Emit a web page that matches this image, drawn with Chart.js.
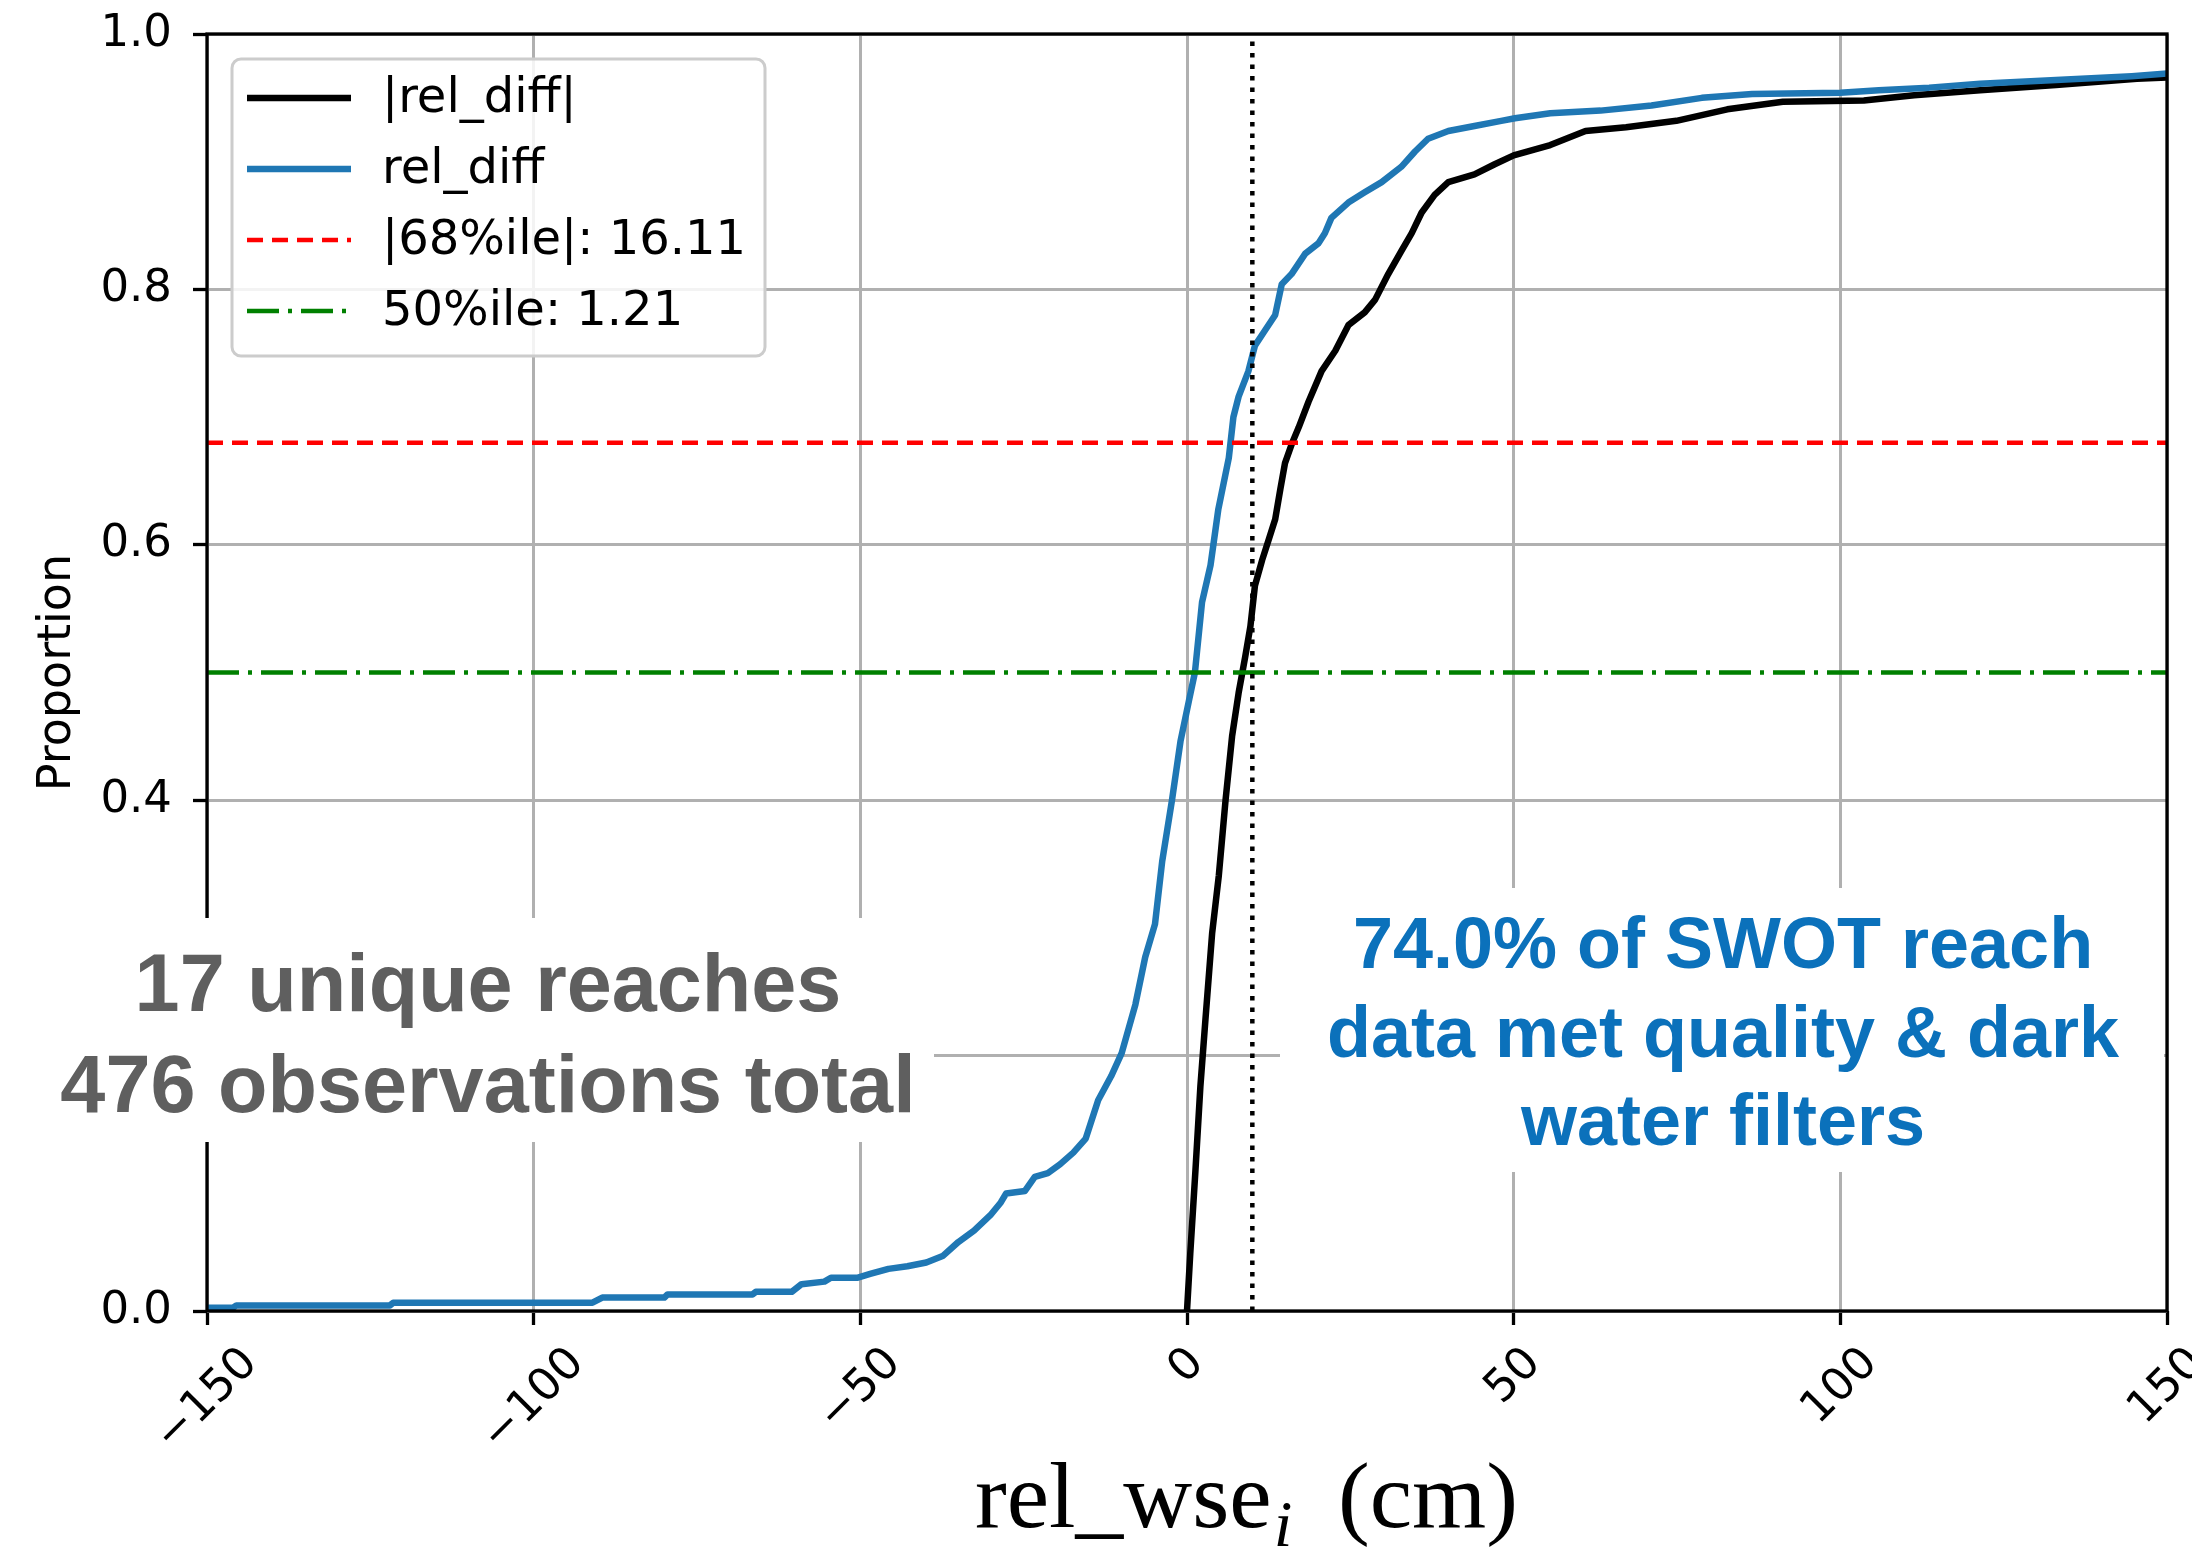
<!DOCTYPE html>
<html>
<head>
<meta charset="utf-8">
<script src="https://cdn.jsdelivr.net/npm/chart.js@4.4.0/dist/chart.umd.min.js"></script>
<style>
html, body { margin: 0; padding: 0; background: #ffffff; }
canvas { display: block; }
</style>
</head>
<body>
<canvas id="c" width="2192" height="1548"></canvas>
<script>
// Empirical CDF of the signed relative WSE difference (cm)
const relDiffX = [-150, -146, -145.5, -122, -121.5, -91, -89.5, -80, -79.5, -66.5, -66, -60.5, -59, -55.5, -54.5, -50.5,
  -48.5, -45.7, -42.8, -39.9, -37.4, -35, -32.6, -30.1, -28.5, -27.7, -24.8, -23.3, -21.3, -19.4, -17.4, -15.5,
  -13.6, -11.6, -10, -7.9, -6.4, -4.9, -3.8, -2.3, -1.0, 0.3, 1.21, 2.3, 3.6, 4.8, 6.4, 7.1, 7.9, 9.4, 10.4, 11.7,
  13.5, 14.5, 16.0, 18.1, 20.1, 21.1, 22.1, 24.7, 27.2, 29.8, 32.8, 34.9, 36.9, 40.0, 44.0, 48.1, 50.2, 55.6,
  63.3, 71.1, 78.8, 86.5, 100, 105.9, 113.6, 121.4, 133, 144.6, 150];
const relDiffY = [0.0026, 0.0026, 0.0044, 0.0044, 0.0065, 0.0065, 0.0105, 0.0105, 0.013, 0.013, 0.015, 0.015, 0.021, 0.023, 0.026, 0.026,
  0.029, 0.033, 0.035, 0.038, 0.043, 0.054, 0.063, 0.075, 0.085, 0.092, 0.094, 0.105, 0.108, 0.115, 0.124, 0.135,
  0.165, 0.184, 0.202, 0.24, 0.277, 0.303, 0.352, 0.40, 0.446, 0.478, 0.50, 0.555, 0.584, 0.628, 0.668, 0.70, 0.716, 0.736, 0.756, 0.766,
  0.78, 0.804, 0.812, 0.828, 0.836, 0.844, 0.856, 0.868, 0.876, 0.884, 0.896, 0.908, 0.918, 0.924, 0.928, 0.932, 0.934, 0.938,
  0.940, 0.944, 0.950, 0.953, 0.954, 0.956, 0.958, 0.961, 0.964, 0.967, 0.969];

// Empirical CDF of the absolute relative WSE difference (cm)
const absDiffX = [0, 0.5, 1.28, 2.05, 2.82, 3.85, 4.87, 5.9, 6.9, 7.9, 8.9, 9.7, 10.4, 11.5, 12.5, 13.5, 14.3, 15.0,
  16.11, 17.1, 18.6, 20.6, 22.7, 24.7, 27.2, 28.8, 30.8, 32.8, 34.4, 35.9, 37.9, 40.0, 44.0, 47.1, 50, 55.6, 61,
  67.2, 74.9, 82.7, 91.2, 103.6, 111.3, 121.4, 133, 145.4, 150];
const absDiffY = [0, 0.045, 0.109, 0.176, 0.228, 0.296, 0.341, 0.40, 0.45, 0.484, 0.512, 0.536, 0.568, 0.588, 0.604, 0.62, 0.644, 0.664,
  0.68, 0.692, 0.712, 0.736, 0.752, 0.772, 0.782, 0.792, 0.812, 0.83, 0.844, 0.86, 0.874, 0.884, 0.89, 0.898, 0.905, 0.913, 0.924,
  0.927, 0.932, 0.941, 0.947, 0.948, 0.952, 0.956, 0.960, 0.965, 0.966];

// Percentile reference levels: proportion drawn, value reported (cm)
const pctNames = ['|68%ile|', '50%ile'];
const pctProportions = [0.68, 0.5];
const pctValues = [16.11, 1.21];
const thresholdX = 10;

const xRange = [-150, 150];
const xTickValues = [-150, -100, -50, 0, 50, 100, 150];
const xTickLabels = ['\u2212150', '\u2212100', '\u221250', '0', '50', '100', '150'];
const yRange = [0, 1];
const yStep = 0.2;

const seriesLabels = ['|rel_diff|', 'rel_diff'];
const leftNote = ['17 unique reaches', '476 observations total'];
const rightNote = ['74.0% of SWOT reach', 'data met quality & dark', 'water filters'];

const toPoints = (xs, ys) => xs.map((x, i) => ({ x: x, y: ys[i] }));

const datasets = [
  { label: seriesLabels[0], data: toPoints(absDiffX, absDiffY), borderColor: '#000000', borderWidth: 6.5, order: 5 },
  { label: seriesLabels[1], data: toPoints(relDiffX, relDiffY), borderColor: '#1f77b4', borderWidth: 6.5, order: 4 },
  { label: pctNames[0] + ': ' + pctValues[0].toFixed(2),
    data: [{ x: xRange[0], y: pctProportions[0] }, { x: xRange[1], y: pctProportions[0] }],
    borderColor: '#ff0000', borderWidth: 4.5, borderDash: [16, 9], order: 3 },
  { label: pctNames[1] + ': ' + pctValues[1].toFixed(2),
    data: [{ x: xRange[0], y: pctProportions[1] }, { x: xRange[1], y: pctProportions[1] }],
    borderColor: '#008000', borderWidth: 4.5, borderDash: [32, 9, 4, 9], order: 2 },
  { label: 'threshold', hideInLegend: true,
    data: [{ x: thresholdX, y: yRange[0] }, { x: thresholdX, y: yRange[1] }],
    borderColor: '#000000', borderWidth: 4.5, borderDash: [4.5, 7], order: 1 }
];

const decor = {
  id: 'decor',
  afterDatasetsDraw(chart) {
    const ctx = chart.ctx, ca = chart.chartArea;
    ctx.save();
    // axes frame
    ctx.strokeStyle = '#000000';
    ctx.lineWidth = 3.3;
    ctx.setLineDash([]);
    ctx.strokeRect(ca.left, ca.top, ca.right - ca.left, ca.bottom - ca.top);

    // legend box in the upper-left corner of the plot
    const lx = ca.left + 25, ly = ca.top + 25, lw = 533, lh = 297, r = 9;
    ctx.beginPath();
    ctx.moveTo(lx + r, ly);
    ctx.arcTo(lx + lw, ly, lx + lw, ly + lh, r);
    ctx.arcTo(lx + lw, ly + lh, lx, ly + lh, r);
    ctx.arcTo(lx, ly + lh, lx, ly, r);
    ctx.arcTo(lx, ly, lx + lw, ly, r);
    ctx.closePath();
    ctx.fillStyle = 'rgba(255,255,255,0.85)';
    ctx.fill();
    ctx.strokeStyle = '#cccccc';
    ctx.lineWidth = 3;
    ctx.stroke();

    ctx.font = '48px "DejaVu Sans"';
    ctx.textAlign = 'left';
    ctx.textBaseline = 'middle';
    let row = 0;
    chart.data.datasets.forEach(ds => {
      if (ds.hideInLegend) return;
      const yy = ly + 39 + row * 71;
      ctx.beginPath();
      ctx.setLineDash(ds.borderDash || []);
      ctx.lineDashOffset = 0;
      ctx.strokeStyle = ds.borderColor;
      ctx.lineWidth = ds.borderWidth;
      ctx.moveTo(lx + 15, yy);
      ctx.lineTo(lx + 119, yy);
      ctx.stroke();
      ctx.setLineDash([]);
      ctx.fillStyle = '#000000';
      ctx.fillText(ds.label, lx + 150, yy + 2);
      row++;
    });
    ctx.restore();
  },
  afterDraw(chart) {
    const ctx = chart.ctx, ca = chart.chartArea;
    const xs = chart.scales.x;
    ctx.save();

    // annotation panels
    ctx.fillStyle = '#ffffff';
    ctx.fillRect(10, 918, 924, 224);
    ctx.fillRect(1280, 888, ca.right - 3 - 1280, 284);

    ctx.textAlign = 'center';
    ctx.textBaseline = 'alphabetic';
    ctx.fillStyle = '#5f5f5f';
    ctx.font = 'bold 81px "Liberation Sans"';
    ctx.fillText(leftNote[0], 488, 1011);
    ctx.fillText(leftNote[1], 488, 1112);

    ctx.fillStyle = '#0b71bb';
    ctx.font = 'bold 72px "Liberation Sans"';
    ctx.fillText(rightNote[0], 1723, 968);
    ctx.fillText(rightNote[1], 1723, 1057);
    ctx.fillText(rightNote[2], 1723, 1145);

    // rotated x tick labels, centred under each tick
    ctx.fillStyle = '#000000';
    ctx.font = '45px "DejaVu Sans"';
    ctx.textAlign = 'center';
    ctx.textBaseline = 'middle';
    const y0 = ca.bottom + 27;
    const th = 45 * 1.164;
    xTickValues.forEach((v, i) => {
      const w = ctx.measureText(xTickLabels[i]).width;
      const side = (w + th) * Math.SQRT1_2;
      ctx.save();
      ctx.translate(xs.getPixelForValue(v), y0 + side / 2);
      ctx.rotate(-Math.PI / 4);
      ctx.fillText(xTickLabels[i], 0, 0);
      ctx.restore();
    });

    // y axis title
    ctx.save();
    ctx.translate(70, (ca.top + ca.bottom) / 2);
    ctx.rotate(-Math.PI / 2);
    ctx.font = '46px "DejaVu Sans"';
    ctx.textAlign = 'center';
    ctx.textBaseline = 'alphabetic';
    ctx.fillText('Proportion', 0, 0);
    ctx.restore();

    // x axis title: rel_wse with italic subscript i, then (cm)
    const fs = 94;
    const partA = 'rel_wse', partSub = 'i', partB = '\u2002(cm)';
    ctx.font = fs + 'px "Liberation Serif"';
    const wA = ctx.measureText(partA).width;
    const wB = ctx.measureText(partB).width;
    ctx.font = 'italic ' + Math.round(fs * 0.7) + 'px "Liberation Serif"';
    const wS = ctx.measureText(partSub).width;
    const total = wA + wS + wB;
    const targetW = 543;
    const sx = targetW / total;
    ctx.save();
    ctx.translate(975, 1527);
    ctx.scale(sx, 1);
    ctx.textAlign = 'left';
    ctx.textBaseline = 'alphabetic';
    ctx.font = fs + 'px "Liberation Serif"';
    ctx.fillText(partA, 0, 0);
    ctx.font = 'italic ' + Math.round(fs * 0.7) + 'px "Liberation Serif"';
    ctx.fillText(partSub, wA + 2, fs * 0.2);
    ctx.font = fs + 'px "Liberation Serif"';
    ctx.fillText(partB, wA + wS, 0);
    ctx.restore();

    ctx.restore();
  }
};

new Chart(document.getElementById('c'), {
  type: 'line',
  data: { datasets: datasets },
  options: {
    responsive: false,
    animation: false,
    devicePixelRatio: 1,
    layout: { padding: { left: 0, right: 25, top: 34, bottom: 0 } },
    elements: {
      point: { radius: 0, hoverRadius: 0 },
      line: { tension: 0, fill: false, borderJoinStyle: 'round' }
    },
    plugins: { legend: { display: false }, tooltip: { enabled: false } },
    scales: {
      x: {
        type: 'linear',
        min: xRange[0], max: xRange[1],
        afterBuildTicks: s => { s.ticks = xTickValues.map(v => ({ value: v })); },
        afterFit: s => { s.height = 237; s.paddingLeft = 0; s.paddingRight = 0; s.paddingTop = 0; s.paddingBottom = 0; },
        ticks: { display: false },
        border: { display: false },
        grid: { color: '#b0b0b0', lineWidth: 3, drawTicks: true, tickLength: 14, tickColor: '#000000', tickWidth: 3.3 }
      },
      y: {
        type: 'linear',
        min: yRange[0], max: yRange[1],
        afterFit: s => { s.width = 207; s.paddingTop = 0; s.paddingBottom = 0; s.paddingLeft = 0; s.paddingRight = 0; },
        ticks: {
          stepSize: yStep,
          padding: 21,
          color: '#000000',
          font: { family: '"DejaVu Sans"', size: 45 },
          callback: v => Number(v).toFixed(1)
        },
        border: { display: false },
        grid: { color: '#b0b0b0', lineWidth: 3, drawTicks: true, tickLength: 14, tickColor: '#000000', tickWidth: 3.3 }
      }
    }
  },
  plugins: [decor]
});
</script>
</body>
</html>
